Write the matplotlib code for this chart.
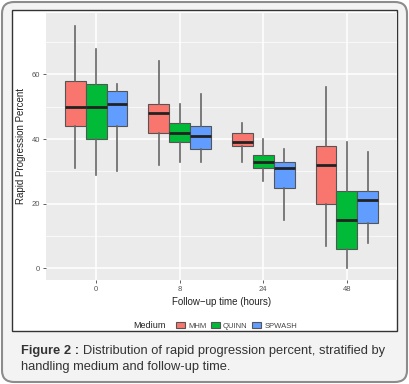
import matplotlib
matplotlib.use("Agg")
import matplotlib.pyplot as plt
from matplotlib.patches import FancyBboxPatch, Rectangle, Patch

plt.rcParams['font.family'] = ['Liberation Sans', 'DejaVu Sans']

# data
times = ['0', '8', '24', '48']
media = ['MHM', 'QUINN', 'SPWASH']
colors = ['#F8766D', '#00BA38', '#619CFF']

# per medium, per time: [low whisker, Q1, median, Q3, high whisker]
mhm_stats = [[31, 44, 50, 58, 75], [32, 42, 48, 51, 64],
             [33, 38, 39, 42, 45], [7, 20, 32, 38, 56]]
quinn_stats = [[29, 40, 50, 57, 68], [33, 39, 42, 45, 51],
               [27, 31, 33, 35, 40], [0, 6, 15, 24, 39]]
spwash_stats = [[30, 44, 51, 55, 57], [33, 37, 41, 44, 54],
                [15, 25, 31, 33, 37], [8, 14, 21, 24, 36]]
all_stats = [mhm_stats, quinn_stats, spwash_stats]

W, H = 409, 384
fig = plt.figure(figsize=(W / 100, H / 100), dpi=100)
fig.patch.set_facecolor('white')

# outer card and inner image frame
fig.patches.append(FancyBboxPatch((2 / W, 2 / H), 405 / W, 380 / H,
                                  boxstyle='round,pad=0,rounding_size=0.03',
                                  transform=fig.transFigure, facecolor='#f2f3f2',
                                  edgecolor='#8c8c8c', linewidth=1.5, zorder=-10))
fig.patches.append(Rectangle((12 / W, 1 - 331 / H), 385 / W, 321 / H,
                             transform=fig.transFigure, facecolor='white',
                             edgecolor='#333333', linewidth=1.0, zorder=-9))

ax = fig.add_axes([46 / W, 1 - 280 / H, 351 / W, 267 / H])
ax.set_facecolor('#EBEBEB')
for s in ax.spines.values():
    s.set_visible(False)

width = 0.25
for m, (stats_m, col) in enumerate(zip(all_stats, colors)):
    bstats = []
    for st in stats_m:
        lo, q1, med, q3, hi = st
        bstats.append(dict(whislo=lo, q1=q1, med=med, q3=q3, whishi=hi, fliers=[]))
    pos = [i + 1 + (m - 1) * width for i in range(len(times))]
    ax.bxp(bstats, positions=pos, widths=width, patch_artist=True,
           showcaps=False, showfliers=False,
           boxprops=dict(facecolor=col, edgecolor='#555555', linewidth=0.8),
           whiskerprops=dict(color='#666666', linewidth=1.2),
           medianprops=dict(color='#222222', linewidth=2.0))

ax.set_xlim(0.4, 4.6)
ax.set_ylim(-3.6, 79)
ax.set_xticks(range(1, 5))
ax.set_xticklabels(times)
ax.set_yticks([0, 20, 40, 60])
ax.set_yticks([10, 30, 50, 70], minor=True)
ax.grid(True, which='major', color='white', linewidth=1.1)
ax.grid(True, which='minor', axis='y', color='white', linewidth=0.5)
ax.set_axisbelow(True)
ax.tick_params(axis='both', which='major', labelsize=5.5, labelcolor='#555555',
               color='#444444', length=2.5, width=0.6, pad=2)
ax.tick_params(axis='both', which='minor', length=0)
ax.set_xlabel('Follow\u2212up time (hours)', fontsize=7, color='#222222', labelpad=3)
ax.set_ylabel('Rapid Progression Percent', fontsize=7, color='#222222', labelpad=4)

# legend at bottom
fig.text(133 / W, 1 - 326 / H, 'Medium', fontsize=6.5, color='#222222',
         va='center', ha='left')
handles = [Patch(facecolor=c, edgecolor='#555555', linewidth=0.8) for c in colors]
fig.legend(handles, media, loc='center left', bbox_to_anchor=(172 / W, 1 - 326 / H),
           ncol=3, frameon=False, fontsize=5.5, handlelength=1.2, handleheight=0.9,
           handletextpad=0.4, columnspacing=0.6, borderpad=0, labelcolor='#444444')

# caption
t1 = fig.text(21 / W, 1 - 351 / H, 'Figure 2 :', fontsize=9.3, fontweight='bold',
              color='#333333', va='center', ha='left')
fig.canvas.draw()
bb = t1.get_window_extent()
fig.text((bb.x1 + 4) / W, 1 - 351 / H,
         'Distribution of rapid progression percent, stratified by',
         fontsize=9.3, color='#333333', va='center', ha='left')
fig.text(21 / W, 1 - 367 / H, 'handling medium and follow-up time.',
         fontsize=9.3, color='#333333', va='center', ha='left')

fig.savefig('out.png', dpi=100, facecolor=fig.get_facecolor())
